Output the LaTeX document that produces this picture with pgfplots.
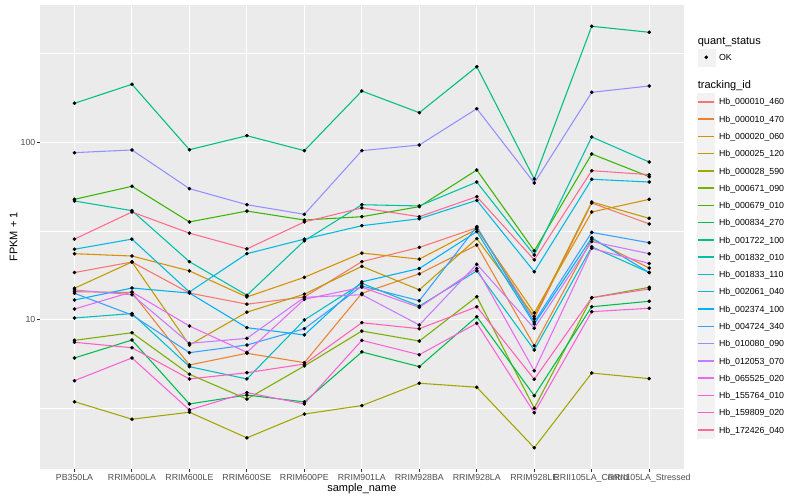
\documentclass[border=0pt]{standalone}
\usepackage{pgfplots}
\pgfplotsset{compat=1.18}
\usepackage{pgfplotstable}
\usepackage{fontspec}
\setmainfont{Liberation Sans}
\definecolor{c1}{HTML}{F8766D}
\definecolor{c2}{HTML}{EA8331}
\definecolor{c3}{HTML}{D89000}
\definecolor{c4}{HTML}{C09B00}
\definecolor{c5}{HTML}{A3A500}
\definecolor{c6}{HTML}{7CAE00}
\definecolor{c7}{HTML}{39B600}
\definecolor{c8}{HTML}{00BB4E}
\definecolor{c9}{HTML}{00BF7D}
\definecolor{c10}{HTML}{00C1A3}
\definecolor{c11}{HTML}{00BFC4}
\definecolor{c12}{HTML}{00BAE0}
\definecolor{c13}{HTML}{00B0F6}
\definecolor{c14}{HTML}{35A2FF}
\definecolor{c15}{HTML}{9590FF}
\definecolor{c16}{HTML}{C77CFF}
\definecolor{c17}{HTML}{E76BF3}
\definecolor{c18}{HTML}{FA62DB}
\definecolor{c19}{HTML}{FF62BC}
\definecolor{c20}{HTML}{FF6C91}
\definecolor{ggbg}{HTML}{EBEBEB}
\definecolor{ggkey}{HTML}{F2F2F2}
\definecolor{ggtick}{HTML}{4D4D4D}
\definecolor{gg20}{HTML}{333333}
\pgfplotstableread{
x  s1   s2    s3   s4    s5   s6    s7   s8    s9    s10   s11   s12  s13   s14   s15   s16   s17   s18   s19   s20
1  18.4 14.35 23.5 15.0  3.44 7.63  47.6 6.07  165.7 46.6  10.2  24.9 12.88 14.05 87.3  14.67 11.46 4.52  7.44  28.4
2  21.1 14.2  22.8 21.1  2.74 8.42  56.4 7.66  212.1 41.1  10.8  28.4 15.05 10.6  90.4  13.8  14.3  6.07  6.93  40.4
3  14.1 5.54  18.8 7.18  3.00 4.91  35.5 3.34  90.7  21.2  5.42  14.3 14.1  6.50  54.7  7.34  9.19  3.09  4.62  30.7
4  12.2 6.45  13.4 11.0  2.15 3.56  40.9 3.75  108.8 13.7  4.62  23.5 8.99  7.18  44.4  7.83  6.53  3.87  5.01  25.0
5  13.4 5.71  17.3 13.9  2.93 5.47  36.4 3.43  89.6  27.8  9.94  28.4 8.18  8.87  39.2  13.34 13.0  3.34  5.61  35.5
6  21.2 14.05 23.7 19.95 3.27 8.61  38.0 6.56  194.4 44.4  16.0  33.8 16.3  15.45 89.6  13.8  15.2  7.63  9.59  42.6
7  25.5 18.1  21.9 14.7  4.37 7.56  43.3 5.42  146.7 43.7  11.9  37.0 19.4  12.76 96.4  9.31  11.7  6.33  8.87  38.0
8  32.9 26.3  32.3 28.6  4.15 13.45 69.7 10.37 266.6 59.6  18.8  47.0 31.3  33.4  154.5 20.5  19.4  9.52  11.8  49.3
9  10.1 7.12  10.9 10.4  1.89 3.16  24.4 3.72  62.0  23.1  6.73  18.6 9.43  9.68  58.9  8.92  5.14  2.98  4.60  21.7
10 45.4 28.4  40.4 46.0  4.99 13.27 85.8 11.8  450.5 107.0 25.7  61.8 28.9  31.0  191.1 27.5  25.2  11.07 13.27 69.1
11 34.6 19.5  47.6 37.2  4.64 15.19 63.9 12.67 416.7 77.3  18.4  59.6 18.4  27.1  207.5 23.5  20.7  11.57 14.86 65.6
}\data
\begin{document}
\begin{tikzpicture}
\path[use as bounding box] (0,0) rectangle (800bp,500bp);
\begin{axis}[
  at={(40bp,31bp)}, anchor=south west,
  scale only axis, width=643.7bp, height=464bp,
  ymode=log, xmin=0.4, xmax=11.6, ymin=1.435, ymax=594,
  axis background/.style={fill=ggbg},
  axis line style={draw=none},
  xtick={1,...,11},
  xticklabels={PB350LA,RRIM600LA,RRIM600LE,RRIM600SE,RRIM600PE,RRIM901LA,RRIM928BA,RRIM928LA,RRIM928LE,RRII105LA\_Control,RRII105LA\_Stressed},
  ytick={10,100}, yticklabels={10,100},
  minor ytick={3.1623,31.623,316.23},
  xmajorgrids, ymajorgrids, yminorgrids,
  major grid style={white, line width=1.07bp},
  minor grid style={white, line width=0.53bp},
  tick align=outside, major tick length=2.75bp, minor tick length=0pt,
  xtick pos=left, ytick pos=left,
  every tick/.style={gg20, line width=1.07bp},
  tick label style={font=\fontsize{8.8bp}{10bp}\selectfont, text=ggtick},
  xticklabel style={anchor=north, inner sep=0pt, yshift=-2bp},
  yticklabel style={anchor=east, inner sep=0pt, xshift=-1.75bp},
  xlabel={sample\_name}, ylabel={FPKM + 1},
  every axis x label/.style={at={(axis description cs:0.5,0)}, anchor=base, yshift=-22bp, font=\fontsize{11bp}{13bp}\selectfont, inner sep=0pt},
  every axis y label/.style={at={(axis description cs:0,0.5)}, rotate=90, anchor=base, yshift=22.7bp, font=\fontsize{11bp}{13bp}\selectfont, inner sep=0pt},
  legend style={at={(axis description cs:1.0207,0.9329)}, anchor=north west, draw=none, fill=none, inner sep=0pt, row sep=-0.8bp, column sep=3.7bp, font=\fontsize{8.8bp}{10bp}\selectfont, cells={anchor=base west}, nodes={inner sep=0pt, text depth=}},
  legend image code/.code={\fill[ggkey] (0bp,-5.3bp) rectangle (17bp,11.7bp); \draw[#1, line width=1.5bp] (0.5bp,3.2bp) -- (16.5bp,3.2bp);},
  legend entries={
    {\rule[-4.6bp]{0pt}{13.1bp}\makebox[0pt][l]{\hspace*{-21.7bp}\fontsize{11bp}{13bp}\selectfont quant\_status}},
    {OK},
    {\rule[-5.05bp]{0pt}{28.3bp}\makebox[0pt][l]{\hspace*{-21.7bp}\fontsize{11bp}{13bp}\selectfont tracking\_id}},
    {Hb\_000010\_460},{Hb\_000010\_470},{Hb\_000020\_060},{Hb\_000025\_120},{Hb\_000028\_590},
    {Hb\_000671\_090},{Hb\_000679\_010},{Hb\_000834\_270},{Hb\_001722\_100},{Hb\_001832\_010},
    {Hb\_001833\_110},{Hb\_002061\_040},{Hb\_002374\_100},{Hb\_004724\_340},{Hb\_010080\_090},
    {Hb\_012053\_070},{Hb\_065525\_020},{Hb\_155764\_010},{Hb\_159809\_020},{Hb\_172426\_040}
  },
]
\addlegendimage{empty legend}
\addlegendimage{legend image code/.code={\fill[ggkey] (0bp,-5.3bp) rectangle (17bp,11.7bp); \fill[black] (8.5bp,3.2bp) circle (1.6bp);}}
\addlegendimage{empty legend}
\pgfplotsinvokeforeach{1,...,20}{
  \addplot[c#1, line width=1.07bp, line join=round, mark=none] table[x=x, y=s#1]{\data};
}
\pgfplotsinvokeforeach{1,...,20}{
  \addplot[forget plot, only marks, mark=*, mark size=1.6bp, black] table[x=x, y=s#1]{\data};
}
\end{axis}
\end{tikzpicture}
\end{document}
